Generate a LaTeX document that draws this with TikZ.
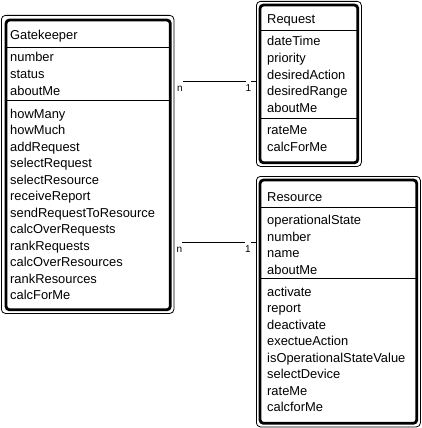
\documentclass[tikz,border=0pt]{standalone}
\usepackage{fontspec}
\setmainfont{Liberation Sans}
\begin{document}
\begin{tikzpicture}[x=1pt,y=1pt,
  outerbox/.style={draw=black, line width=0.8pt, rounded corners=4pt, inner sep=0pt, anchor=north west},
  innerbox/.style={draw=black, line width=2.8pt, rounded corners=3.5pt},
  sepline/.style={draw=black, line width=0.9pt},
  txt/.style={inner sep=0pt, anchor=base west, font=\fontsize{12.9}{16.5}\selectfont},
  lab/.style={inner sep=0pt, anchor=base west, text height=10pt, font=\fontsize{10}{12}\selectfont},
  conn/.style={draw=black, line width=0.9pt}]
\useasboundingbox (0,0) rectangle (422,-428);
\fill[white] (0,0) rectangle (422,-428);

% ---------- Gatekeeper ----------
\node[outerbox, minimum width=172.5pt, minimum height=298pt] (gk) at (1,-15) {};
\draw[innerbox] ([shift={(5,-5)}]gk.north west) rectangle ([shift={(-4,4)}]gk.south east);
\draw[sepline] ([shift={(6,-32)}]gk.north west) -- ([shift={(-5,-32)}]gk.north east);
\draw[sepline] ([shift={(6,-85)}]gk.north west) -- ([shift={(-5,-85)}]gk.north east);
\node[txt] (gkt) at (10,-40) {Gatekeeper};
\foreach \t [count=\i from 0] in {number,status,aboutMe}
  \node[txt] (gka\i) at (10,-62-16.5*\i) {\t};
\foreach \t [count=\i from 0] in {howMany,howMuch,addRequest,selectRequest,selectResource,receiveReport,sendRequestToResource,calcOverRequests,rankRequests,calcOverResources,rankResources,calcForMe}
  \node[txt] (gkm\i) at (10,-118-16.5*\i) {\t};

% ---------- Request ----------
\node[outerbox, minimum width=105pt, minimum height=165pt] (req) at (256,-1) {};
\draw[innerbox] ([shift={(4,-4)}]req.north west) rectangle ([shift={(-4,4)}]req.south east);
\draw[sepline] ([shift={(5,-29)}]req.north west) -- ([shift={(-5,-29)}]req.north east);
\draw[sepline] ([shift={(5,-117)}]req.north west) -- ([shift={(-5,-117)}]req.north east);
\node[txt] (reqt) at (267,-24) {Request};
\foreach \t [count=\i from 0] in {dateTime,priority,desiredAction,desiredRange,aboutMe}
  \node[txt] (reqa\i) at (267,-46-16.5*\i) {\t};
\foreach \t [count=\i from 0] in {rateMe,calcForMe}
  \node[txt] (reqm\i) at (267,-134.5-16.5*\i) {\t};

% ---------- Resource ----------
\node[outerbox, minimum width=164pt, minimum height=250.5pt] (res) at (256,-176) {};
\draw[innerbox] ([shift={(4,-4)}]res.north west) rectangle ([shift={(-4,4)}]res.south east);
\draw[sepline] ([shift={(5,-31)}]res.north west) -- ([shift={(-5,-31)}]res.north east);
\draw[sepline] ([shift={(5,-102)}]res.north west) -- ([shift={(-5,-102)}]res.north east);
\node[txt] (rest) at (267,-201.5) {Resource};
\foreach \t [count=\i from 0] in {operationalState,number,name,aboutMe}
  \node[txt] (resa\i) at (267,-224.5-16.5*\i) {\t};
\foreach \t [count=\i from 0] in {activate,report,deactivate,exectueAction,isOperationalStateValue,selectDevice,rateMe,calcforMe}
  \node[txt] (resm\i) at (267,-296-16.5*\i) {\t};

% ---------- Connectors ----------
\node[lab] (n1) at (177,-92) {n};
\node[lab] (o1) at (245.5,-92) {1};
\draw[conn] (n1.north east) -- (o1.north west);
\draw[conn] (o1.north east) -- (req.west |- o1.north east);

\node[lab] (n2) at (176.5,-252.3) {n};
\node[lab] (o2) at (245,-252.3) {1};
\draw[conn] (n2.north east) -- (o2.north west);
\draw[conn] (o2.north east) -- (res.west |- o2.north east);
\end{tikzpicture}
\end{document}
